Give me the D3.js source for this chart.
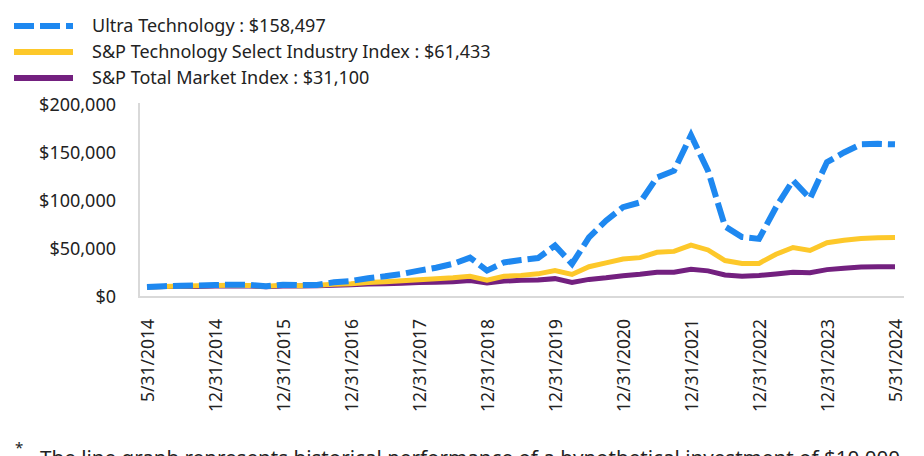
<!DOCTYPE html>
<html>
<head>
<meta charset="utf-8">
<script src="https://cdn.jsdelivr.net/npm/d3@7"></script>
<style>
  html, body { margin: 0; padding: 0; background: #fff; }
  svg { display: block; font-family: "Noto Sans", sans-serif; }
</style>
</head>
<body>
<svg id="chart" width="924" height="456"></svg>
<script>
// Quarterly points, index 0 = 5/31/2014 ... index 44 = 5/31/2024
const tickLabels = ["5/31/2014","12/31/2014","12/31/2015","12/31/2016","12/31/2017","12/31/2018",
  "12/31/2019","12/31/2020","12/31/2021","12/31/2022","12/31/2023","5/31/2024"];
const tickIndex = [0,4,8,12,16,20,24,28,32,36,40,44];

const ultraTech = [10000,10800,11300,11500,12000,12300,12200,10600,12300,11800,12100,14800,
  16200,19000,21000,23500,27000,30000,34000,40500,27000,35500,38000,40000,
  53000,34000,61500,79000,93000,98000,124000,131000,168000,131000,73000,62000,
  60000,93000,121000,102000,140000,150000,158500,159000,158497];
const techIndex = [10000,10500,10900,11200,11500,11600,11500,10800,11600,11300,11600,12700,
  13300,14500,15300,16300,17500,18500,19500,21000,17000,21000,22000,23600,
  27000,23000,31000,35000,39000,40500,46000,47000,53500,48500,37500,34500,
  34500,44000,51000,48000,56000,58500,60500,61300,61433];
const totalMarket = [10000,10300,10500,10500,10900,11000,11000,10200,10900,10900,11200,11700,
  12200,12900,13300,13800,14700,14800,15400,16600,14200,16100,16800,17100,
  18600,14700,17800,19500,21700,23200,25200,25300,28300,26700,22500,21200,
  21900,23500,25200,24800,28000,29500,30700,31000,31100];

const seriesNames = ["Ultra Technology : $158,497","S&P Technology Select Industry Index : $61,433","S&P Total Market Index : $31,100"];
const seriesColors = ["#1e88f0","#fdc82a","#73207f"];
const yTicks = [0,50000,100000,150000,200000];

const svg = d3.select("#chart");
const x = d3.scaleLinear().domain([0,44]).range([147,895]);
const y = d3.scaleLinear().domain([0,200000]).range([296.5,104.5]);

// axes lines
svg.append("line").attr("x1",139).attr("x2",139).attr("y1",103).attr("y2",297)
  .attr("stroke","#d9d9d9").attr("stroke-width",2);
svg.append("line").attr("x1",138).attr("x2",904).attr("y1",297).attr("y2",297)
  .attr("stroke","#d9d9d9").attr("stroke-width",2);

// y axis labels
const yAxis = d3.axisLeft(y).tickValues(yTicks).tickSize(0).tickPadding(0)
  .tickFormat(d => "$" + d3.format(",")(d));
const yg = svg.append("g").attr("transform","translate(116,0)").call(yAxis);
yg.select(".domain").remove();
yg.selectAll("text").attr("font-size",18).attr("fill","#222").attr("font-family","Noto Sans");

// x axis labels
const xAxis = d3.axisBottom(x).tickValues(tickIndex).tickSize(0)
  .tickFormat((d,i) => tickLabels[i]);
const xg = svg.append("g").attr("transform","translate(0,319)").call(xAxis);
xg.select(".domain").remove();
xg.selectAll("text")
  .attr("font-size",17.5).attr("fill","#222").attr("font-family","Noto Sans")
  .attr("text-anchor","end").attr("dy","0.35em").attr("y",0).attr("x",0)
  .attr("transform","rotate(-90)");

const line = d3.line().x((d,i) => x(i)).y(d => y(d));

const data = [totalMarket, techIndex, ultraTech];
const cols = [seriesColors[2], seriesColors[1], seriesColors[0]];
data.forEach((s,k) => {
  const p = svg.append("path").attr("d", line(s)).attr("fill","none")
    .attr("stroke", cols[k]).attr("stroke-width", k===2 ? 6 : 5)
    .attr("stroke-linejoin","miter");
  if (k===2) p.attr("stroke-dasharray","20,6");
});

// legend
const legY = [26,52,78];
seriesNames.forEach((name,i) => {
  const sw = svg.append("line").attr("x1",14).attr("x2",73).attr("y1",legY[i]).attr("y2",legY[i])
    .attr("stroke",seriesColors[i]).attr("stroke-width",6);
  if (i===0) sw.attr("stroke-dasharray","20,6");
  svg.append("text").attr("x",92).attr("y",legY[i]).attr("dy","0.35em")
    .attr("font-size",18).attr("fill","#222").text(name);
});

// footnote (cut off at the bottom edge, as in the reference)
svg.append("text").attr("x",15).attr("y",453).attr("font-size",15).attr("fill","#222").text("*");
svg.append("text").attr("x",40).attr("y",465).attr("font-size",20.6).attr("fill","#222")
  .text("The line graph represents historical performance of a hypothetical investment of $10,000");
</script>
</body>
</html>
